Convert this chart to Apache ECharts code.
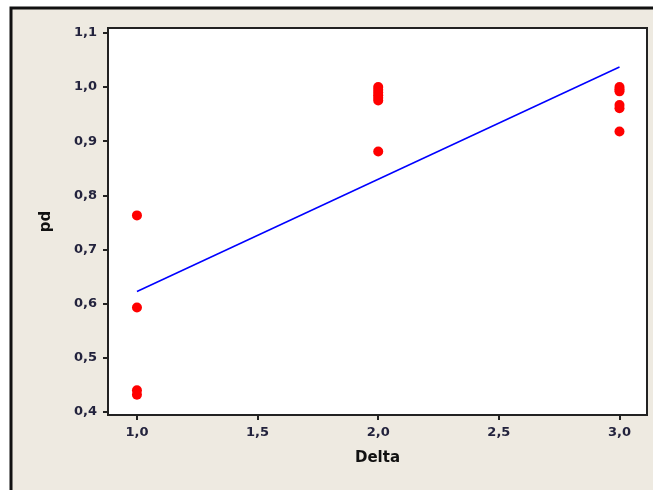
<!DOCTYPE html>
<html>
<head>
    <meta charset="UTF-8">
    <title>pd vs Delta</title>
    <style>
        html, body { margin: 0; padding: 0; background: #fff; }
    </style>
</head>
<body>
<div id="container" style="width:653px;height:490px"></div>
<script type="text/javascript" src="https://cdn.jsdelivr.net/npm/echarts@6/dist/echarts.min.js"></script>
<script type="text/javascript">
    // observed points (Delta, pd)
    var deltaValues = [1, 1, 1, 1, 2, 2, 2, 2, 2, 2, 2, 3, 3, 3, 3, 3, 3];
    var pdValues = [0.763, 0.593, 0.44, 0.432, 1.0, 0.995, 0.99, 0.985, 0.98, 0.975, 0.881, 1.0, 0.996, 0.992, 0.967, 0.961, 0.918];

    // fitted line end points
    var fitDelta = [1, 3];
    var fitPd = [0.6225, 1.037];

    var xTicks = [1.0, 1.5, 2.0, 2.5, 3.0];
    var yTicks = [0.4, 0.5, 0.6, 0.7, 0.8, 0.9, 1.0, 1.1];

    var points = deltaValues.map(function (d, i) { return [d, pdValues[i]]; });
    var fitLine = fitDelta.map(function (d, i) { return [d, fitPd[i]]; });

    function comma(v) {
        return v.toFixed(1).replace('.', ',');
    }

    var labelStyle = {
        fontFamily: 'DejaVu Sans',
        fontSize: 13,
        fontWeight: 'bold',
        color: '#23233d'
    };

    var myChart = echarts.init(document.getElementById('container'));
    var option = {
        animation: false,
        backgroundColor: '#ffffff',
        graphic: [{
            type: 'rect',
            z: -10,
            shape: { x: 11, y: 8, width: 660, height: 500 },
            style: { fill: '#eeeae1', stroke: '#111', lineWidth: 3 }
        }],
        grid: {
            left: 108,
            top: 28,
            right: 6,
            bottom: 75,
            show: true,
            backgroundColor: '#ffffff',
            borderColor: '#222',
            borderWidth: 2
        },
        xAxis: {
            type: 'value',
            min: 0.88,
            max: 3.114,
            name: 'Delta',
            nameLocation: 'middle',
            nameGap: 36,
            nameTextStyle: { fontFamily: 'DejaVu Sans', fontWeight: 'bold', fontSize: 15, color: '#111' },
            axisLine: { show: true, lineStyle: { color: '#222', width: 2 } },
            axisTick: { show: true, length: 5, customValues: xTicks, lineStyle: { color: '#222', width: 2 } },
            axisLabel: Object.assign({ margin: 11, customValues: xTicks, formatter: comma }, labelStyle),
            splitLine: { show: false }
        },
        yAxis: {
            type: 'value',
            min: 0.3945,
            max: 1.109,
            name: 'pd',
            nameLocation: 'middle',
            nameGap: 54,
            nameTextStyle: { fontFamily: 'DejaVu Sans', fontWeight: 'bold', fontSize: 15, color: '#111' },
            axisLine: { show: true, lineStyle: { color: '#222', width: 2 } },
            axisTick: { show: true, length: 5, customValues: yTicks, lineStyle: { color: '#222', width: 2 } },
            axisLabel: Object.assign({ margin: 11, customValues: yTicks, formatter: comma }, labelStyle),
            splitLine: { show: false }
        },
        series: [
            {
                type: 'line',
                data: fitLine,
                symbol: 'none',
                lineStyle: { color: '#0000ff', width: 1.5 },
                z: 2
            },
            {
                type: 'scatter',
                data: points,
                symbol: 'circle',
                symbolSize: 10,
                itemStyle: { color: '#ff0000', opacity: 1 },
                z: 3
            }
        ]
    };
    myChart.setOption(option);
</script>
</body>
</html>
